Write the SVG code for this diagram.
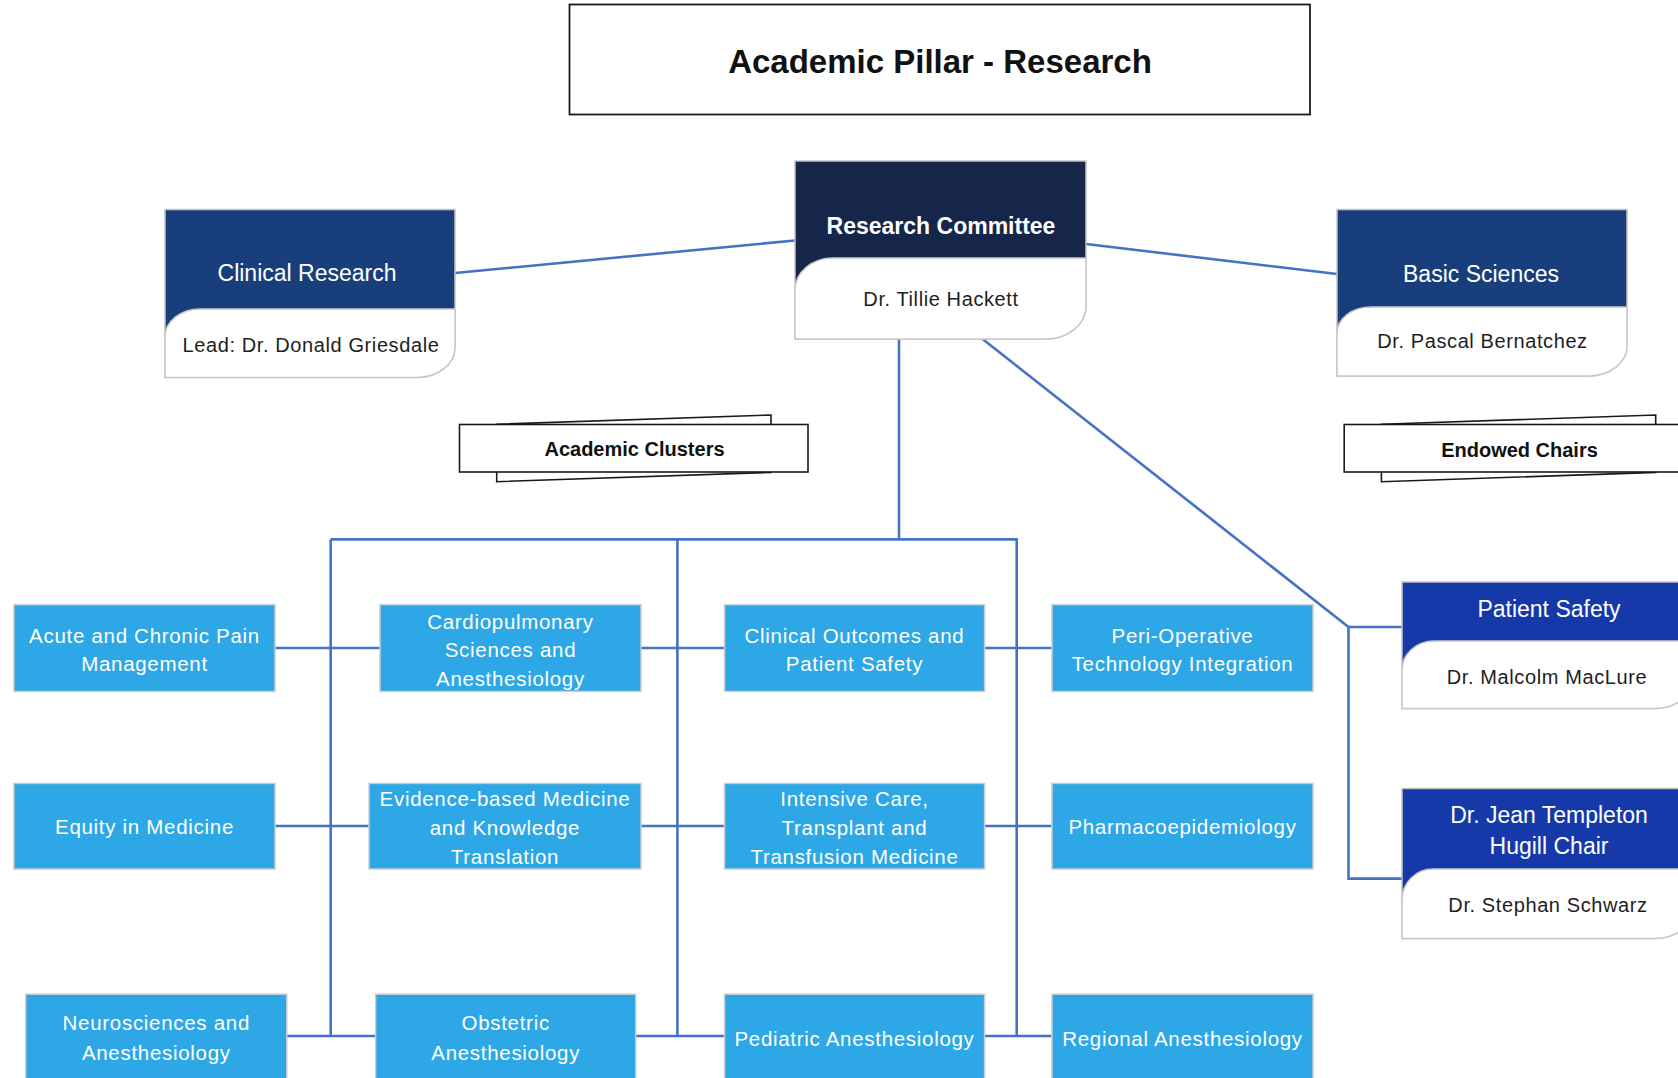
<svg xmlns="http://www.w3.org/2000/svg" width="1678" height="1078" viewBox="0 0 1678 1078">
<style>
text { font-family: "Liberation Sans", Arial, sans-serif; text-anchor: middle; }
.conn { stroke: #4472C4; stroke-width: 2.6; fill: none; }
.box { fill: #2EA7E6; stroke: #C8CDD2; stroke-width: 1.5; }
.bt { font-size: 20.5px; fill: #FFFFFF; letter-spacing: 0.7px; }
.ht { font-size: 23px; fill: #FFFFFF; }
.nm { font-size: 20px; fill: #1E1E1E; letter-spacing: 0.6px; }
.edge { stroke: #C4C4C4; stroke-width: 1.5; }
.wh { fill: #FFFFFF; stroke: #C8C8C8; stroke-width: 1.5; }
.ban { fill: #FFFFFF; stroke: #1A1A1A; stroke-width: 1.6; }
.bant { font-size: 20px; font-weight: bold; fill: #111111; }
</style>
<rect x="0" y="0" width="1678" height="1078" fill="#FFFFFF"/>

<g id="connectors">
  <line class="conn" x1="455" y1="273" x2="795" y2="240.5"/>
  <line class="conn" x1="1086" y1="244" x2="1337" y2="274"/>
  <line class="conn" x1="899" y1="339" x2="899" y2="539.4"/>
  <line class="conn" x1="982.5" y1="339" x2="1348.5" y2="627"/>
  <path class="conn" d="M1402,627 H1348.5 V878.6 H1402"/>
  <line class="conn" x1="330.7" y1="539.4" x2="1017.8" y2="539.4"/>
  <line class="conn" x1="330.7" y1="539.4" x2="330.7" y2="1036"/>
  <line class="conn" x1="677.4" y1="539.4" x2="677.4" y2="1036"/>
  <line class="conn" x1="1016.7" y1="539.4" x2="1016.7" y2="1036"/>
  <line class="conn" x1="275" y1="648" x2="380" y2="648"/>
  <line class="conn" x1="641" y1="648" x2="724.5" y2="648"/>
  <line class="conn" x1="984.6" y1="648" x2="1052" y2="648"/>
  <line class="conn" x1="275" y1="826" x2="369" y2="826"/>
  <line class="conn" x1="641" y1="826" x2="724.5" y2="826"/>
  <line class="conn" x1="984.6" y1="826" x2="1052" y2="826"/>
  <line class="conn" x1="286.8" y1="1036" x2="375.6" y2="1036"/>
  <line class="conn" x1="635.7" y1="1036" x2="724.5" y2="1036"/>
  <line class="conn" x1="984.6" y1="1036" x2="1052" y2="1036"/>
</g>

<g id="title">
  <rect x="569.5" y="4.5" width="740.5" height="110" fill="#FFFFFF" stroke="#1A1A1A" stroke-width="1.8"/>
  <text x="940" y="72.5" font-size="33" font-weight="bold" fill="#111111">Academic Pillar - Research</text>
</g>

<g id="research-committee">
  <path class="edge" fill="#16264B" d="M795,161 H1086 V306 A40,33 0 0 1 1046,339 H795 Z"/>
  <path class="wh" d="M795,290 A38,32 0 0 1 833,258 H1086 V306 A40,33 0 0 1 1046,339 H795 Z"/>
  <text x="941" y="234" font-size="23" font-weight="bold" fill="#FFFFFF">Research Committee</text>
  <text class="nm" x="941" y="306">Dr. Tillie Hackett</text>
</g>

<g id="clinical-research">
  <path class="edge" fill="#183F7C" d="M165,209.5 H455 V347.5 A38,30 0 0 1 417,377.5 H165 Z"/>
  <path class="wh" d="M165,337 A35,28 0 0 1 200,309 H455 V347.5 A38,30 0 0 1 417,377.5 H165 Z"/>
  <text class="ht" x="307" y="281">Clinical Research</text>
  <text class="nm" x="311" y="351.5">Lead: Dr. Donald Griesdale</text>
</g>

<g id="basic-sciences">
  <path class="edge" fill="#183F7C" d="M1337,209.5 H1627 V346 A38,30 0 0 1 1589,376 H1337 Z"/>
  <path class="wh" d="M1337,333 A34,26 0 0 1 1371,307 H1627 V346 A38,30 0 0 1 1589,376 H1337 Z"/>
  <text class="ht" x="1481" y="281.5">Basic Sciences</text>
  <text class="nm" x="1482.5" y="348">Dr. Pascal Bernatchez</text>
</g>

<g id="academic-clusters">
  <polygon class="ban" points="496.7,424.3 771,415 771,472.4 496.7,481.7"/>
  <rect class="ban" x="459.5" y="424.5" width="348.5" height="47.5"/>
  <text class="bant" x="634.5" y="456">Academic Clusters</text>
</g>

<g id="endowed-chairs">
  <polygon class="ban" points="1381.4,424.3 1655.7,415 1655.7,472.4 1381.4,481.7"/>
  <rect class="ban" x="1344.2" y="424.5" width="348.5" height="47.5"/>
  <text class="bant" x="1519.5" y="456.5">Endowed Chairs</text>
</g>

<g id="patient-safety">
  <path class="edge" fill="#1539A8" d="M1402,582 H1693 V678.5 A38,30 0 0 1 1655,708.5 H1402 Z"/>
  <path class="wh" d="M1402,670 A32,29 0 0 1 1434,641 H1693 V678.5 A38,30 0 0 1 1655,708.5 H1402 Z"/>
  <text class="ht" x="1549" y="616.5">Patient Safety</text>
  <text class="nm" x="1547" y="684">Dr. Malcolm MacLure</text>
</g>

<g id="hugill-chair">
  <path class="edge" fill="#1539A8" d="M1402,788.5 H1693 V908.5 A38,30 0 0 1 1655,938.5 H1402 Z"/>
  <path class="wh" d="M1402,900 A31,31 0 0 1 1433,869 H1693 V908.5 A38,30 0 0 1 1655,938.5 H1402 Z"/>
  <text class="ht" x="1549" y="822.5">Dr. Jean Templeton</text>
  <text class="ht" x="1549" y="854">Hugill Chair</text>
  <text class="nm" x="1548" y="912">Dr. Stephan Schwarz</text>
</g>

<g id="acute-chronic-pain">
  <rect class="box" x="13.9" y="604.7" width="261.1" height="86.7"/>
  <text class="bt" x="144.5" y="642.5">Acute and Chronic Pain</text>
  <text class="bt" x="144.5" y="670.5">Management</text>
</g>
<g id="cardiopulmonary">
  <rect class="box" x="380" y="604.7" width="261" height="86.7"/>
  <text class="bt" x="510.5" y="628.5">Cardiopulmonary</text>
  <text class="bt" x="510.5" y="657">Sciences and</text>
  <text class="bt" x="510.5" y="686">Anesthesiology</text>
</g>
<g id="clinical-outcomes">
  <rect class="box" x="724.5" y="604.7" width="260.1" height="86.7"/>
  <text class="bt" x="854.5" y="642.5">Clinical Outcomes and</text>
  <text class="bt" x="854.5" y="670.5">Patient Safety</text>
</g>
<g id="peri-operative">
  <rect class="box" x="1052" y="604.7" width="261" height="86.7"/>
  <text class="bt" x="1182.5" y="642.5">Peri-Operative</text>
  <text class="bt" x="1182.5" y="670.5">Technology Integration</text>
</g>

<g id="equity">
  <rect class="box" x="13.9" y="783.4" width="261.1" height="85.6"/>
  <text class="bt" x="144.5" y="834">Equity in Medicine</text>
</g>
<g id="evidence-based">
  <rect class="box" x="369" y="783.4" width="272" height="85.6"/>
  <text class="bt" x="505" y="805.5">Evidence-based Medicine</text>
  <text class="bt" x="505" y="834.5">and Knowledge</text>
  <text class="bt" x="505" y="864">Translation</text>
</g>
<g id="intensive-care">
  <rect class="box" x="724.5" y="783.4" width="260.1" height="85.6"/>
  <text class="bt" x="854.5" y="805.5">Intensive Care,</text>
  <text class="bt" x="854.5" y="834.5">Transplant and</text>
  <text class="bt" x="854.5" y="864">Transfusion Medicine</text>
</g>
<g id="pharmacoepidemiology">
  <rect class="box" x="1052" y="783.4" width="261" height="85.6"/>
  <text class="bt" x="1182.5" y="834">Pharmacoepidemiology</text>
</g>

<g id="neurosciences">
  <rect class="box" x="25.7" y="994.2" width="261.1" height="86.7"/>
  <text class="bt" x="156.3" y="1030">Neurosciences and</text>
  <text class="bt" x="156.3" y="1060">Anesthesiology</text>
</g>
<g id="obstetric">
  <rect class="box" x="375.6" y="994.2" width="260.1" height="86.7"/>
  <text class="bt" x="505.7" y="1030">Obstetric</text>
  <text class="bt" x="505.7" y="1060">Anesthesiology</text>
</g>
<g id="pediatric">
  <rect class="box" x="724.5" y="994.2" width="260.1" height="86.7"/>
  <text class="bt" x="854.5" y="1046">Pediatric Anesthesiology</text>
</g>
<g id="regional">
  <rect class="box" x="1052" y="994.2" width="261" height="86.7"/>
  <text class="bt" x="1182.5" y="1046">Regional Anesthesiology</text>
</g>
</svg>
